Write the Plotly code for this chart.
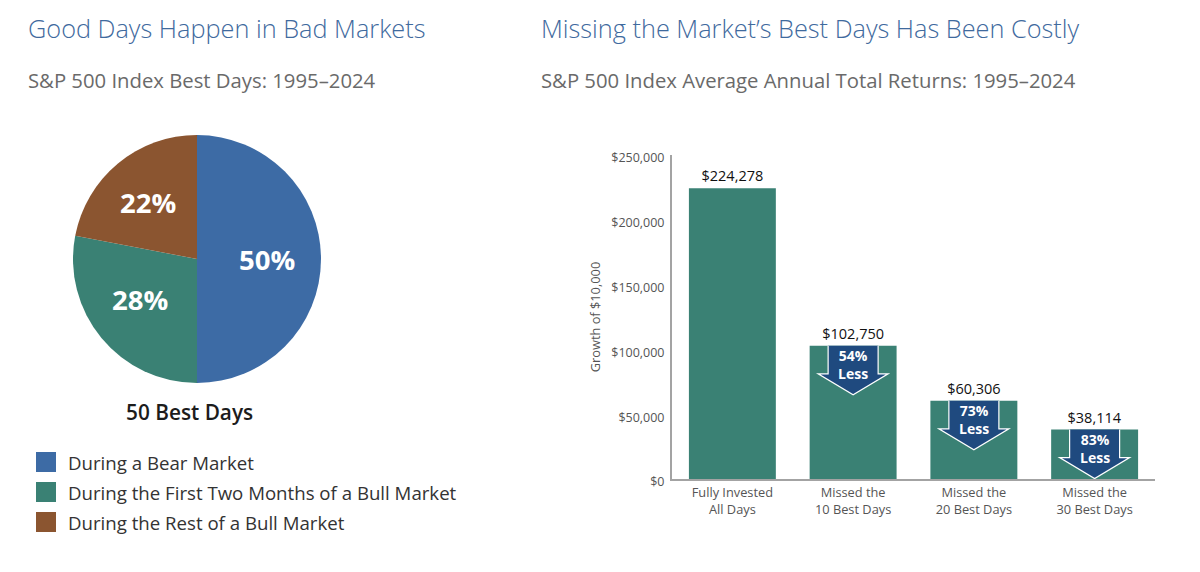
import plotly.graph_objects as go

# pie data
pie_labels = ["During a Bear Market", "During the First Two Months of a Bull Market", "During the Rest of a Bull Market"]
pie_values = [50, 28, 22]
pie_colors = ["#3d6ba5", "#3a8174", "#8b5530"]

# bar data
bar_labels = ["Fully Invested<br>All Days", "Missed the<br>10 Best Days", "Missed the<br>20 Best Days", "Missed the<br>30 Best Days"]
bar_values = [224278, 102750, 60306, 38114]
arrow_text = [None, "54%<br>Less", "73%<br>Less", "83%<br>Less"]
y_ticks = [0, 50000, 100000, 150000, 200000, 250000]

W, H = 1200, 572
FONT = "Open Sans"

def px(x):
    return x / W

def py(y):
    return 1 - y / H

# plot box in pixels
left, right, top, bottom = 672, 1155, 155, 479
unit_y = 250000 / (bottom - top)
unit_x = 4 / (right - left)

fig = go.Figure()

fig.add_trace(go.Pie(
    labels=pie_labels, values=pie_values, sort=False, direction="clockwise", rotation=0,
    marker=dict(colors=pie_colors, line=dict(width=0)),
    domain=dict(x=[px(73), px(321)], y=[py(383), py(135)]),
    textinfo="none",
    showlegend=False,
))

fig.add_trace(go.Bar(
    x=list(range(len(bar_values))), y=bar_values, width=0.72,
    marker=dict(color="#3a8174", line=dict(width=0)),
    texttemplate="$%{y:,}", textposition="outside", cliponaxis=False,
    textfont=dict(family=FONT, size=14.5, color="#111111"),
    showlegend=False,
))

# down arrows hanging from the top of each missed-days bar
shapes = []
annotations = []
for i, (val, txt) in enumerate(zip(bar_values, arrow_text)):
    if txt is None:
        continue
    sx = 25 * unit_x
    hx = 35 * unit_x
    s_y = val - 28 * unit_y
    tip = val - 49 * unit_y
    # left open so the outline skips the top edge
    path = f"M {i-sx} {val} L {i-sx} {s_y} L {i-hx} {s_y} L {i} {tip} L {i+hx} {s_y} L {i+sx} {s_y} L {i+sx} {val}"
    shapes.append(dict(type="path", path=path, xref="x", yref="y", fillcolor="#1f4a7f",
                       line=dict(color="white", width=1.2), layer="above"))
    annotations.append(dict(x=i, y=val - 19 * unit_y, xref="x", yref="y", text=txt, showarrow=False,
                            font=dict(family=FONT, size=14, color="white", weight=700)))

def label(x, y, text, size, color, anchor="left", weight=400):
    annotations.append(dict(x=px(x), y=py(y), xref="paper", yref="paper", text=text, showarrow=False,
                            xanchor=anchor, yanchor="middle", xshift=-2 if anchor == "left" else 0, align=anchor,
                            font=dict(family=FONT, size=size, color=color, weight=weight)))

label(28, 28, "Good Days Happen in Bad Markets", 25.3, "#3f6a9e", weight=300)
label(541, 28, "Missing the Market’s Best Days Has Been Costly", 25.3, "#3f6a9e", weight=300)
label(28, 80, "S&P 500 Index Best Days: 1995–2024", 20.3, "#6a6a6a")
label(541, 80, "S&P 500 Index Average Annual Total Returns: 1995–2024", 20.3, "#6a6a6a")
label(189, 412, "50 Best Days", 20.8, "#1c1c1c", anchor="center", weight=600)

# slice labels placed by hand, plotly's inside text sits too close to the centre
for v, (x, y) in zip(pie_values, [(267, 259), (140, 299), (148, 202)]):
    label(x, y, f"{v}%", 27.5, "white", anchor="center", weight=700)

# legend swatches
for name, color, yc in zip(pie_labels, pie_colors, [462, 492, 522]):
    shapes.append(dict(type="rect", xref="paper", yref="paper", x0=px(36), x1=px(56), y0=py(yc + 10), y1=py(yc - 10),
                       fillcolor=color, line=dict(width=0)))
    label(68, yc, name, 18.65, "#333333")

fig.update_layout(
    width=W, height=H, margin=dict(l=0, r=0, t=0, b=0), autosize=False,
    paper_bgcolor="white", plot_bgcolor="white",
    shapes=shapes, annotations=annotations,
    xaxis=dict(domain=[px(left), px(right)], range=[-0.5, 3.5], tickvals=list(range(4)), ticktext=bar_labels,
               automargin=False, showgrid=False, zeroline=False, showline=True, linecolor="#a3a3a3", linewidth=2,
               ticks="outside", ticklen=1, tickcolor="rgba(0,0,0,0)",
               tickfont=dict(family=FONT, size=12.8, color="#555555")),
    yaxis=dict(domain=[py(bottom), py(top)], range=[0, 250000], tickvals=y_ticks, tickformat="$,",
               automargin=False, showgrid=False, zeroline=False, showline=True, linecolor="#a3a3a3", linewidth=2,
               ticks="outside", ticklen=3, tickcolor="rgba(0,0,0,0)", ticklabelshift=3,
               tickfont=dict(family=FONT, size=12.5, color="#555555"),
               title=dict(text="Growth of $10,000", font=dict(family=FONT, size=12.8, color="#555555"), standoff=8)),
)

fig.write_html("out.html", config=dict(displayModeBar=False), post_script="document.body.style.margin='0';")
